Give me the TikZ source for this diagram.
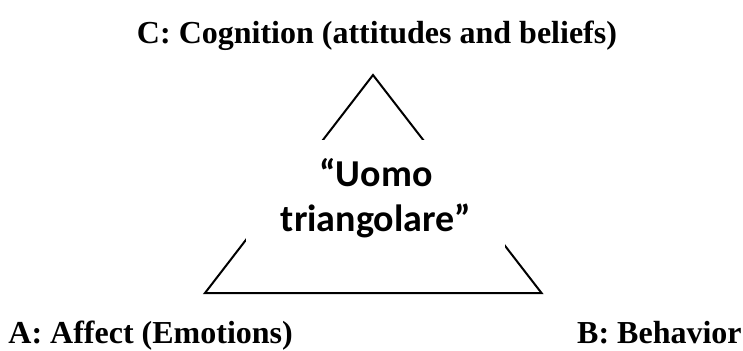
\documentclass[tikz,border=0pt]{standalone}
\usepackage{fontspec}
\setmainfont{Liberation Serif}
\newfontfamily\calibrifont{Carlito}
\begin{document}
\begin{tikzpicture}[x=1bp,y=-1bp,
  serlabel/.style={font=\fontsize{32bp}{38bp}\selectfont\bfseries, inner sep=0pt},
  centertext/.style={font=\calibrifont\fontsize{38bp}{45bp}\selectfont\bfseries, inner sep=0pt, align=center},
  triline/.style={line width=2bp, line join=miter}]
\useasboundingbox (0,0) rectangle (743,350);
\coordinate (apex) at (373,75);
\coordinate (bl) at (205,293);
\coordinate (br) at (541.5,293);
\draw[triline] (apex) -- (bl) -- (br) -- cycle;
\fill[white] (246,140) rectangle (505,250);
\node[centertext, anchor=base] (uomo) at (376,231.7) {“Uomo\\triangolare”};
\node[serlabel, anchor=base] (cog) at (377,43) {C: Cognition (attitudes and beliefs)};
\node[serlabel, anchor=base east] (aff) at (293,343) {A: Affect (Emotions)};
\node[serlabel, anchor=base west] (beh) at (577,343) {B: Behavior};
\end{tikzpicture}
\end{document}
